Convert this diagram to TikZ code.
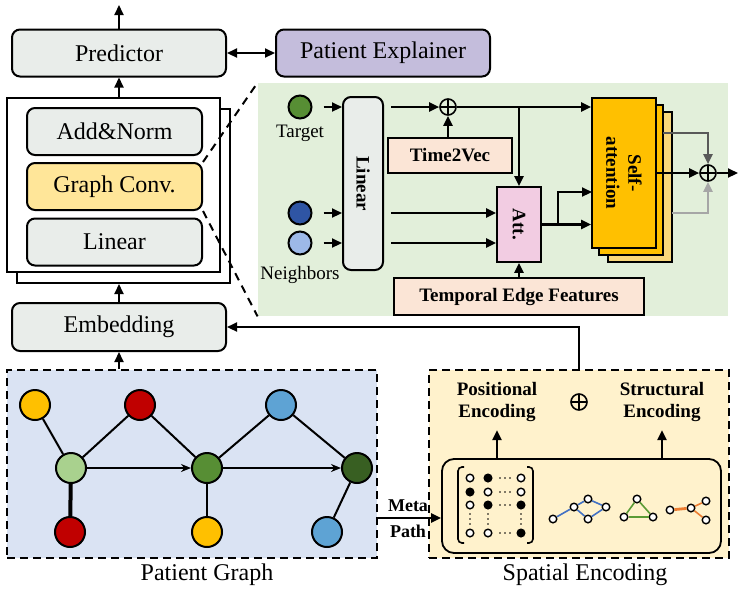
\documentclass[tikz,border=0pt]{standalone}
\usepackage{fontspec}
\setmainfont{Liberation Serif}
\usetikzlibrary{arrows.meta}

\definecolor{boxgray}{HTML}{E9EDEA}
\definecolor{explpurple}{HTML}{C4BDDC}
\definecolor{convyellow}{HTML}{FFE699}
\definecolor{panelgreen}{HTML}{E2EFDA}
\definecolor{peach}{HTML}{FBE5D6}
\definecolor{attpink}{HTML}{F2CCE2}
\definecolor{saorange}{HTML}{FFC000}
\definecolor{salight}{HTML}{F9D77A}
\definecolor{pgblue}{HTML}{DAE3F3}
\definecolor{spcream}{HTML}{FFF2CC}
\definecolor{nyellow}{HTML}{FFC000}
\definecolor{nred}{HTML}{C00000}
\definecolor{nblue}{HTML}{5EA3D4}
\definecolor{nlgreen}{HTML}{A9D18E}
\definecolor{ngreen}{HTML}{578E34}
\definecolor{ndgreen}{HTML}{385F22}
\definecolor{ndblue}{HTML}{2F55A4}
\definecolor{nlblue}{HTML}{9DB9E8}
\definecolor{grayA}{HTML}{595959}
\definecolor{grayB}{HTML}{A6A6A6}
\definecolor{eblue}{HTML}{4472C4}
\definecolor{egreen}{HTML}{5B9B35}
\definecolor{eorange}{HTML}{ED7D31}

\begin{document}
\begin{tikzpicture}[x=0.5pt, y=-0.5pt,
	box/.style={shape=rectangle, rounded corners=4pt, line width=1pt, draw=black, fill=boxgray, minimum width=107pt, minimum height=23.5pt, inner sep=0pt, font=\fontsize{12}{14}\selectfont},
	subbox/.style={box, minimum width=87.5pt},
	layer/.style={shape=rectangle, line width=1pt, draw=black, fill=white, minimum width=106.5pt, minimum height=87pt},
	flat/.style={shape=rectangle, line width=0.9pt, draw=black, fill=peach, inner sep=0pt, font=\bfseries\fontsize{9.5}{11}\selectfont},
	salayer/.style={shape=rectangle, line width=0.9pt, draw=black, fill=saorange, minimum width=32pt, minimum height=75pt},
	dashbox/.style={shape=rectangle, line width=1pt, draw=black, dash pattern=on 4pt off 2.5pt, minimum height=94pt},
	lbl/.style={font=\fontsize{9.5}{11}\selectfont, inner sep=0pt},
	blbl/.style={font=\bfseries\fontsize{9.5}{11}\selectfont, inner sep=0pt, align=center},
	arr/.style={line width=1.1pt, -{Triangle[length=5pt,width=4.5pt]}},
	grayarr/.style={line width=1.1pt, -{Triangle[length=5pt,width=4.5pt]}},
	gnode/.style={shape=circle, draw=black, line width=1pt, minimum size=15pt, inner sep=0pt},
	pnode/.style={shape=circle, draw=black, line width=1pt, minimum size=11.5pt, inner sep=0pt},
	gedge/.style={line width=1pt},
	garr/.style={line width=1pt, -{Stealth[length=5pt,width=4pt]}},
	oplus/.style={shape=circle, draw=black, line width=0.8pt, minimum size=8pt, inner sep=0pt,
		path picture={\draw[line width=0.8pt] (path picture bounding box.north) -- (path picture bounding box.south) (path picture bounding box.west) -- (path picture bounding box.east);}},
	sdot/.style={shape=circle, draw=black, line width=0.7pt, fill=white, minimum size=3.8pt, inner sep=0pt}]
	\useasboundingbox (0,0) rectangle (740,596);

	% top row
	\coordinate (top) at (119,5);
	\node (pred) at (119,53) [box] {Predictor};
	\node (expl) at (383,53) [box, fill=explpurple] {Patient Explainer};
	\draw[arr] (pred.north) -- (top);
	\draw[line width=1.1pt, {Triangle[length=5pt,width=4.5pt]}-{Triangle[length=5pt,width=4.5pt]}] (pred.east) -- (expl.west);

	% encoder layer stack
	\node (encback) at (123.5,196) [layer] {};
	\node (enc) at (113.5,185) [layer] {};
	\node (addnorm) at (114.5,131.5) [subbox] {Add\&Norm};
	\node (gconv) at (114.5,186.5) [subbox, fill=convyellow] {Graph Conv.};
	\node (linear) at (114.5,242) [subbox] {Linear};
	\draw[arr] (pred.south |- enc.north) -- (pred.south);

	\node (emb) at (119,327) [box, minimum height=24pt] {Embedding};
	\draw[arr] (emb.north) -- (emb.north |- encback.south);

	% graph convolution detail
	\node (panel) at (493,199.5) [shape=rectangle, fill=panelgreen, minimum width=235pt, minimum height=116.5pt, inner sep=0pt] {};
	\draw[line width=1pt, dash pattern=on 4pt off 3pt] (gconv.north east) -- (panel.north west);
	\draw[line width=1pt, dash pattern=on 4pt off 3pt] (gconv.south east) -- (panel.south west);

	\node (tgt) at (300,107) [pnode, fill=ngreen] {};
	\node (nb1) at (300,213) [pnode, fill=ndblue] {};
	\node (nb2) at (300,243) [pnode, fill=nlblue] {};
	\node (tgtlbl) at (300,133) [lbl] {Target};
	\node (nblbl) at (300,275) [lbl] {Neighbors};

	\node (linr) at (363,183.5) [box, minimum width=20pt, minimum height=86.5pt] {};
	\node at (linr) [blbl, rotate=-90] {Linear};
	\draw[arr, shorten <=5.5pt] (tgt.east) -- (linr.west |- tgt);
	\draw[arr, shorten <=5.5pt] (nb1.east) -- (linr.west |- nb1);
	\draw[arr, shorten <=5.5pt] (nb2.east) -- (linr.west |- nb2);

	\node (op1) at (448,107) [oplus] {};
	\node (t2v) at (450,155.5) [flat, minimum width=62pt, minimum height=17.5pt] {Time2Vec};
	\node (att) at (519,224.5) [flat, fill=attpink, minimum width=22pt, minimum height=37.5pt] {};
	\node at (att) [blbl, rotate=-90] {Att.};
	\node (tef) at (519,296.5) [flat, minimum width=125pt, minimum height=18.5pt] {Temporal Edge Features};

	\node (sa3) at (640,187) [salayer, fill=salight] {};
	\node (sa2) at (631,180) [salayer] {};
	\node (sa) at (624,173) [salayer] {};
	\node at (sa) [blbl, rotate=-90] {Self-\\attention};

	\draw[arr, shorten <=3.5pt] (linr.east |- tgt) -- (op1.west);
	\draw[arr] (op1.east) -- (op1 -| sa.west);
	\draw[arr] (op1 -| att.north) -- (att.north);
	\draw[arr] (op1 |- t2v.north) -- (op1.south);
	\draw[arr, shorten <=3.5pt] (linr.east |- nb1) -- (att.west |- nb1);
	\draw[arr, shorten <=3.5pt] (linr.east |- nb2) -- (att.west |- nb2);
	\draw[arr] (att.south |- tef.north) -- (att.south);

	\coordinate (split) at (558,224.5);
	\coordinate (sain) at (592,192);
	\draw[line width=1.1pt] (att.east) -- (split);
	\draw[arr] (split) -- (split -| sa.west);
	\draw[arr] (split) |- (sain);

	\node (op2) at (708,173) [oplus] {};
	\coordinate (out) at (738,173);
	\coordinate (gry1) at (663,133);
	\coordinate (gry2) at (672,213);
	\draw[grayarr, draw=grayA] (gry1) -| (op2.north);
	\draw[grayarr, draw=grayB] (gry2) -| (op2.south);
	\draw[arr] (sa.east) -- (op2.west);
	\draw[arr] (op2.east) -- (out);

	% patient graph
	\node (pg) at (192,464) [dashbox, fill=pgblue, minimum width=185pt] {};
	\node (pglbl) at (207,575) [font=\fontsize{12}{14}\selectfont, inner sep=0pt] {Patient Graph};
	\draw[arr] (emb.south |- pg.north) -- (emb.south);

	\node (v1) at (35,405) [gnode, fill=nyellow] {};
	\node (v2) at (140,405) [gnode, fill=nred] {};
	\node (v3) at (281,405) [gnode, fill=nblue] {};
	\node (v4) at (71,468) [gnode, fill=nlgreen] {};
	\node (v5) at (207,468) [gnode, fill=ngreen] {};
	\node (v6) at (357,468) [gnode, fill=ndgreen] {};
	\node (v7) at (70,532) [gnode, fill=nred] {};
	\node (v8) at (207,532) [gnode, fill=nyellow] {};
	\node (v9) at (327,532) [gnode, fill=nblue] {};
	\draw[gedge] (v1) -- (v4);
	\draw[gedge] (v4) -- (v2);
	\draw[gedge] (v2) -- (v5);
	\draw[gedge] (v5) -- (v3);
	\draw[gedge] (v3) -- (v6);
	\draw[gedge, line width=2pt] (v4) -- (v7);
	\draw[gedge] (v5) -- (v8);
	\draw[gedge] (v6) -- (v9);
	\draw[garr] (v4) -- (v5);
	\draw[garr] (v5) -- (v6);

	% spatial encoding
	\node (sp) at (579,464) [dashbox, fill=spcream, minimum width=150pt] {};
	\node (splbl) at (585,575) [font=\fontsize{12}{14}\selectfont, inner sep=0pt] {Spatial Encoding};
	\draw[arr] (sp.north) |- (emb.east);

	\node (inner) at (581.5,506) [shape=rectangle, rounded corners=6pt, line width=0.9pt, draw=black, minimum width=139.5pt, minimum height=47pt] {};
	\node (posenc) at (497,402) [blbl] {Positional\\Encoding};
	\node (op3) at (579,402) [oplus] {};
	\node (strenc) at (662,402) [blbl] {Structural\\Encoding};
	\draw[arr, shorten >=4pt] (inner.north -| posenc) -- (posenc.south);
	\draw[arr, shorten >=4pt] (inner.north -| strenc) -- (strenc.south);

	\coordinate (mp) at (377,518);
	\draw[arr] (mp) -- (mp -| inner.west);
	\node (meta) at (408,506) [blbl, font=\bfseries\fontsize{9}{10}\selectfont] {Meta};
	\node (path) at (408,531) [blbl, font=\bfseries\fontsize{9}{10}\selectfont] {Path};

	% adjacency matrix
	\draw[line width=0.8pt, rounded corners=2pt] (464,467) -- (458,467) -- (458,543) -- (464,543);
	\draw[line width=0.8pt, rounded corners=2pt] (527,467) -- (533,467) -- (533,543) -- (527,543);
	\foreach \cx/\cy/\cf in {470/478/white, 488/478/black, 521/478/white,
		470/492/black, 488/492/white, 521/492/white,
		470/505/white, 488/505/black, 521/505/black,
		470/533/white, 488/533/white, 521/533/black}
		\node at (\cx,\cy) [sdot, fill=\cf] {};
	\foreach \cy in {478,492,505,533}
		\foreach \dx in {-5,0,5}
			\fill (505+\dx,\cy) circle (0.45pt);
	\foreach \cx in {470,488,521}
		\foreach \dy in {-5,0,5}
			\fill (\cx,519+\dy) circle (0.45pt);

	% structure motifs
	\node (b1) at (553,519) [sdot] {};
	\node (b2) at (574,507) [sdot] {};
	\node (b3) at (588,499) [sdot] {};
	\node (b4) at (606,507) [sdot] {};
	\node (b5) at (588,519) [sdot] {};
	\draw[eblue, line width=0.8pt] (b1) -- (b2);
	\draw[eblue, line width=0.8pt] (b2) -- (b3);
	\draw[eblue, line width=0.8pt] (b3) -- (b4);
	\draw[eblue, line width=0.8pt] (b4) -- (b5);
	\draw[eblue, line width=0.8pt] (b5) -- (b2);

	\node (t1) at (637,499) [sdot] {};
	\node (t2) at (624,517) [sdot] {};
	\node (t3) at (653,517) [sdot] {};
	\draw[egreen, line width=0.8pt] (t1) -- (t2);
	\draw[egreen, line width=0.8pt] (t2) -- (t3);
	\draw[egreen, line width=0.8pt] (t3) -- (t1);

	\node (s1) at (670,510) [sdot] {};
	\node (s2) at (691,508) [sdot] {};
	\node (s3) at (706,501) [sdot] {};
	\node (s4) at (706,520) [sdot] {};
	\draw[eorange, line width=1.4pt] (s1) -- (s2);
	\draw[eorange, line width=0.8pt] (s2) -- (s3);
	\draw[eorange, line width=0.8pt] (s2) -- (s4);
\end{tikzpicture}
\end{document}
